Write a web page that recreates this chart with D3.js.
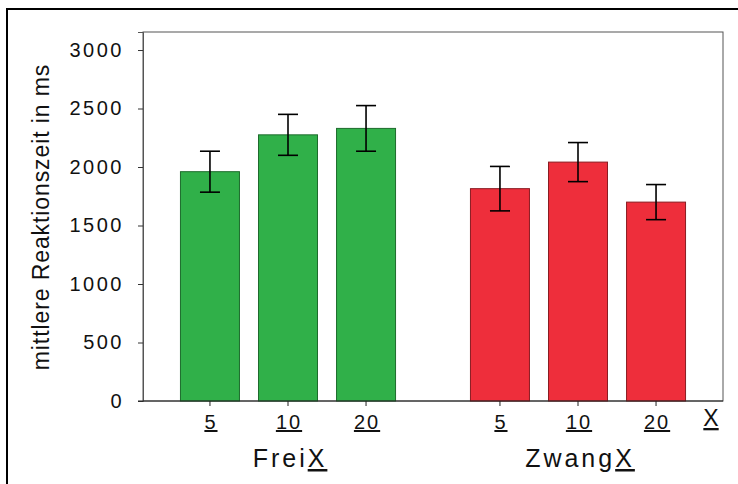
<!DOCTYPE html>
<html>
<head>
<meta charset="utf-8">
<script src="https://cdn.jsdelivr.net/npm/d3@7"></script>
<style>
  html, body { margin: 0; padding: 0; background: #fff; }
  svg { display: block; }
  text { font-family: "Liberation Sans", Arial, sans-serif; fill: #111; }
</style>
</head>
<body>
<svg id="chart" width="738" height="484"></svg>
<script>
// ---- data ----
const groups = ["Frei", "Zwang"];
const conditions = ["5", "10", "20"];
const freiMeans = [1960, 2275, 2330];
const freiErrors = [175, 175, 195];
const zwangMeans = [1815, 2042, 1700];
const zwangErrors = [190, 167, 150];
const yTicks = [0, 500, 1000, 1500, 2000, 2500, 3000];
const yLabel = "mittlere Reaktionszeit in ms";
const groupColors = { Frei: "#30b049", Zwang: "#ee2e3b" };
const groupStroke = { Frei: "#1d6b2c", Zwang: "#8a1c22" };

const rows = [];
groups.forEach((g, gi) => {
  const m = gi === 0 ? freiMeans : zwangMeans;
  const e = gi === 0 ? freiErrors : zwangErrors;
  conditions.forEach((c, ci) => rows.push({ group: g, cond: c, mean: m[ci], err: e[ci] }));
});

// ---- layout ----
const svg = d3.select("#chart");
const plot = { left: 143, right: 723, top: 32, bottom: 401 };

// outer frame lines (top and left)
svg.append("line").attr("x1", 6).attr("x2", 738).attr("y1", 9).attr("y2", 9)
  .attr("stroke", "#000").attr("stroke-width", 2);
svg.append("line").attr("x1", 7).attr("x2", 7).attr("y1", 9).attr("y2", 484)
  .attr("stroke", "#000").attr("stroke-width", 2);

const y = d3.scaleLinear().domain([0, 3154]).range([plot.bottom, plot.top]);
const xOuter = d3.scaleBand().domain(groups).range([plot.left, plot.right]).paddingInner(0).paddingOuter(0);
const xInner = d3.scaleBand().domain(conditions).range([0, xOuter.bandwidth()])
  .paddingInner(0.244).paddingOuter(0.48);

// plot box
svg.append("rect").attr("x", plot.left).attr("y", plot.top)
  .attr("width", plot.right - plot.left).attr("height", plot.bottom - plot.top)
  .attr("fill", "none").attr("stroke", "#555").attr("stroke-width", 1);

// bars
const barG = svg.append("g");
barG.selectAll("rect").data(rows).join("rect")
  .attr("x", d => xOuter(d.group) + xInner(d.cond))
  .attr("y", d => y(d.mean))
  .attr("width", xInner.bandwidth())
  .attr("height", d => y(0) - y(d.mean))
  .attr("fill", d => groupColors[d.group])
  .attr("stroke", d => groupStroke[d.group])
  .attr("stroke-width", 1);

// error bars
const cx = d => xOuter(d.group) + xInner(d.cond) + xInner.bandwidth() / 2;
const eg = svg.append("g").attr("stroke", "#000").attr("stroke-width", 1.6);
eg.selectAll(".v").data(rows).join("line")
  .attr("x1", cx).attr("x2", cx)
  .attr("y1", d => y(d.mean + d.err)).attr("y2", d => y(d.mean - d.err));
eg.selectAll(".t").data(rows).join("line")
  .attr("x1", d => cx(d) - 10).attr("x2", d => cx(d) + 10)
  .attr("y1", d => y(d.mean + d.err)).attr("y2", d => y(d.mean + d.err));
eg.selectAll(".b").data(rows).join("line")
  .attr("x1", d => cx(d) - 10).attr("x2", d => cx(d) + 10)
  .attr("y1", d => y(d.mean - d.err)).attr("y2", d => y(d.mean - d.err));

// y axis
const yAxis = d3.axisLeft(y).tickValues(yTicks).tickSize(5).tickPadding(14).tickFormat(d3.format("d"));
const yg = svg.append("g").attr("transform", `translate(${plot.left},0)`).call(yAxis);
yg.select(".domain").attr("stroke", "#555");
yg.selectAll(".tick line").attr("stroke", "#333");
yg.selectAll(".tick text").attr("font-size", 20).attr("letter-spacing", 2.5)
  .style("font-family", "Liberation Sans, Arial, sans-serif").attr("fill", "#111");

// x baseline
svg.append("line").attr("x1", plot.left - 5).attr("x2", plot.right).attr("y1", plot.bottom).attr("y2", plot.bottom)
  .attr("stroke", "#222").attr("stroke-width", 1.2);

// x ticks and labels
const xt = svg.append("g");
xt.selectAll("line").data(rows).join("line")
  .attr("x1", cx).attr("x2", cx).attr("y1", plot.bottom).attr("y2", plot.bottom + 5)
  .attr("stroke", "#222").attr("stroke-width", 1);
xt.selectAll("text").data(rows).join("text")
  .attr("x", d => cx(d) + 1).attr("y", 429)
  .attr("text-anchor", "middle").attr("font-size", 20).attr("letter-spacing", 2)
  .style("text-decoration", "underline")
  .text(d => d.cond);

// "X" at right
svg.append("text").attr("x", 711).attr("y", 426).attr("text-anchor", "middle")
  .attr("font-size", 23).style("text-decoration", "underline").text("X");

// group labels
groups.forEach(g => {
  const t = svg.append("text")
    .attr("x", xOuter(g) + xOuter.bandwidth() / 2 + 2).attr("y", 467)
    .attr("text-anchor", "middle").attr("font-size", 25).attr("letter-spacing", 3);
  t.append("tspan").text(g);
  t.append("tspan").style("text-decoration", "underline").text("X");
});

// y label
svg.append("text")
  .attr("transform", `translate(49, 217) rotate(-90)`)
  .attr("text-anchor", "middle").attr("font-size", 23).attr("letter-spacing", 0.9)
  .text(yLabel);
</script>
</body>
</html>
